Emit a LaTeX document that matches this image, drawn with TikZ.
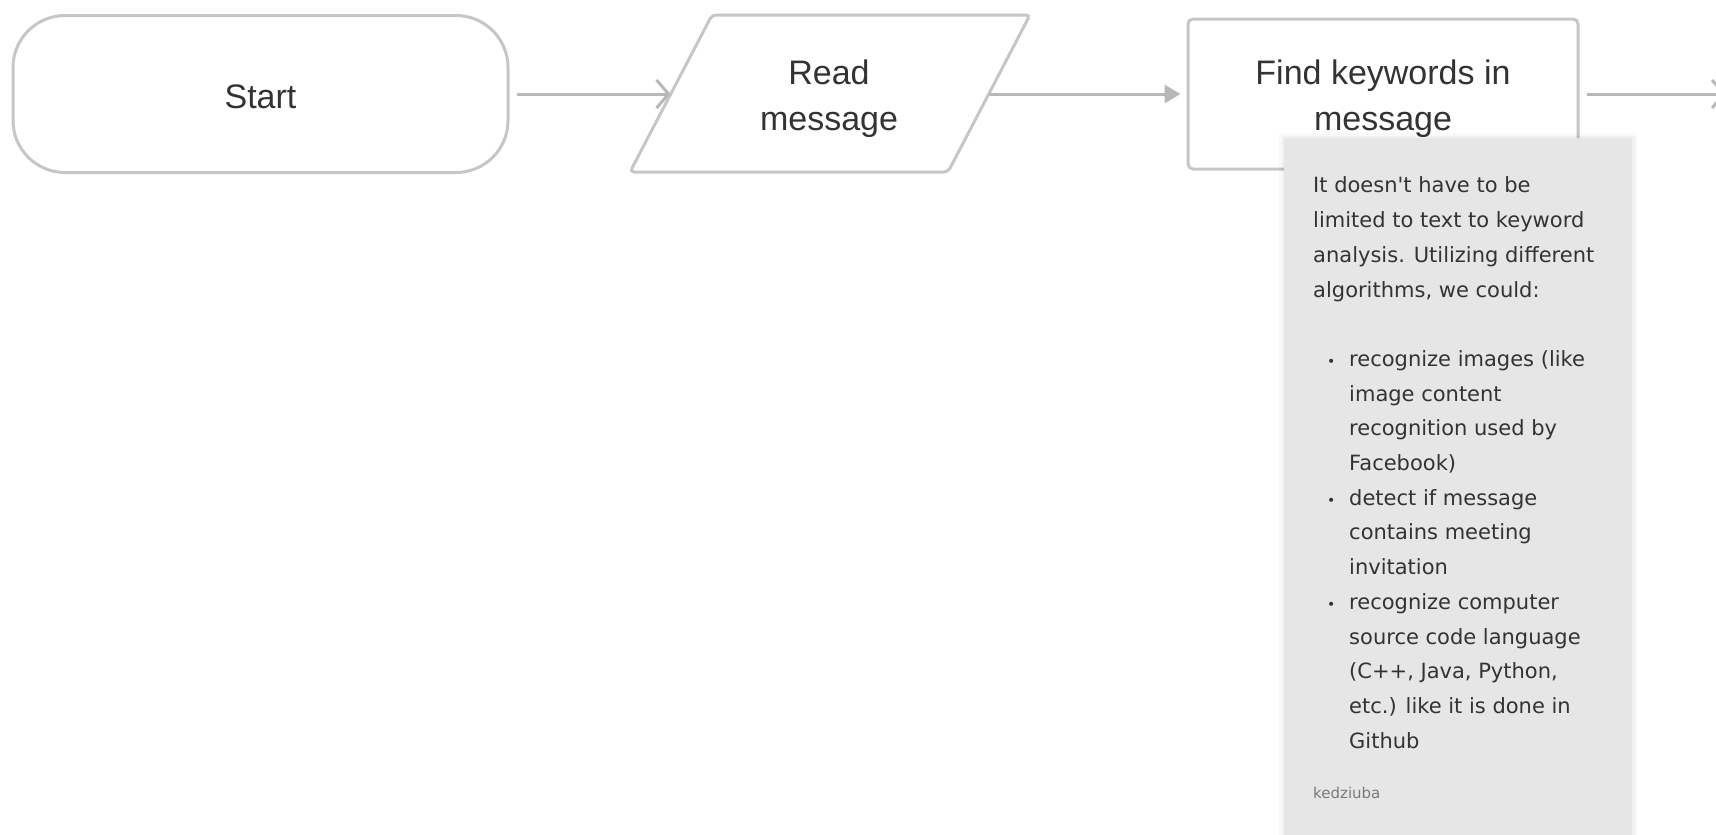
\documentclass[tikz,border=0pt]{standalone}
\usepackage{fontspec}
\setmainfont{Liberation Sans}
\newfontfamily\notefont{DejaVu Sans}
\usetikzlibrary{arrows.meta}
\definecolor{edgegray}{HTML}{C6C6C6}
\definecolor{linegray}{HTML}{B8B8B8}
\definecolor{notefill}{HTML}{E6E6E6}
\definecolor{txt}{HTML}{333333}
\definecolor{authorgray}{HTML}{7A7A7A}
\begin{document}
\begin{tikzpicture}[x=1pt,y=-1pt,
  shapeline/.style={draw=edgegray, line width=3pt},
  maintext/.style={text=txt, font=\fontsize{34}{46}\selectfont, align=center},
  conn/.style={draw=linegray, line width=3pt},
  openhead/.style={-{Straight Barb[length=12pt,width=28pt]}},
  fullhead/.style={-{Triangle[length=16pt,width=18pt]}},
  notetxt/.style={text=txt, align=left, inner sep=0pt, anchor=north west,
    font=\notefont\fontsize{21}{34.7}\selectfont}
]
\useasboundingbox (0,0) rectangle (1716,835);
\clip (0,0) rectangle (1716,835);

% Start terminal
\node[shapeline, rounded corners=52pt, minimum width=495pt, minimum height=157pt,
  inner sep=0pt] (start) at (260.5,94) {};
\node[maintext] (starttext) at (260.5,96.5) {Start};

% Read message (input parallelogram)
\coordinate (pTL) at (712,15);
\coordinate (pTR) at (1030,15);
\coordinate (pBR) at (948,172);
\coordinate (pBL) at (630,172);
\draw[shapeline, rounded corners=4pt] (pTL) -- (pTR) -- (pBR) -- (pBL) -- cycle;
\node[maintext] (read) at (829,98.5) {Read\\message};
\coordinate (readL) at (670.5,94);
\coordinate (readR) at (988.5,94);

% Find keywords box
\node[shapeline, rounded corners=5pt, minimum width=390pt, minimum height=150pt,
  inner sep=0pt] (find) at (1383,94) {};
\node[maintext] (findtext) at (1383,98.5) {Find keywords in\\message};

% connectors
\coordinate (next) at (1726,94);
\draw[conn, openhead] ([xshift=7pt]start.east) -- (readL);
\draw[conn, fullhead] (readR) -- ([xshift=-6pt]find.west);
\draw[conn, openhead] ([xshift=7pt]find.east) -- (next);

% Note (comment)
\fill[black, opacity=0.025] (1279,133) rectangle (1637,840);
\fill[black, opacity=0.03] (1281.5,135.5) rectangle (1634.5,840);
\node[fill=notefill, anchor=north west, minimum width=348pt, minimum height=700pt,
  inner sep=0pt] (note) at (1284,138) {};
\node[notetxt] (notetext) at (1313,176.7) {\rule{0pt}{16pt}It doesn't have to be\\
limited to text to keyword\\
analysis. Utilizing different\\
algorithms, we could:\\[34.7pt]
\hspace*{14pt}\makebox[22pt][l]{\fontsize{14}{14}\selectfont •}recognize images (like\\
\hspace*{36pt}image content\\
\hspace*{36pt}recognition used by\\
\hspace*{36pt}Facebook)\\
\hspace*{14pt}\makebox[22pt][l]{\fontsize{14}{14}\selectfont •}detect if message\\
\hspace*{36pt}contains meeting\\
\hspace*{36pt}invitation\\
\hspace*{14pt}\makebox[22pt][l]{\fontsize{14}{14}\selectfont •}recognize computer\\
\hspace*{36pt}source code language\\
\hspace*{36pt}(C++, Java, Python,\\
\hspace*{36pt}etc.) like it is done in\\
\hspace*{36pt}Github};
\node[anchor=base west, inner sep=0pt, text=authorgray,
  font=\notefont\fontsize{15}{17}\selectfont] (author) at (1313,798) {kedziuba};
\end{tikzpicture}
\end{document}
